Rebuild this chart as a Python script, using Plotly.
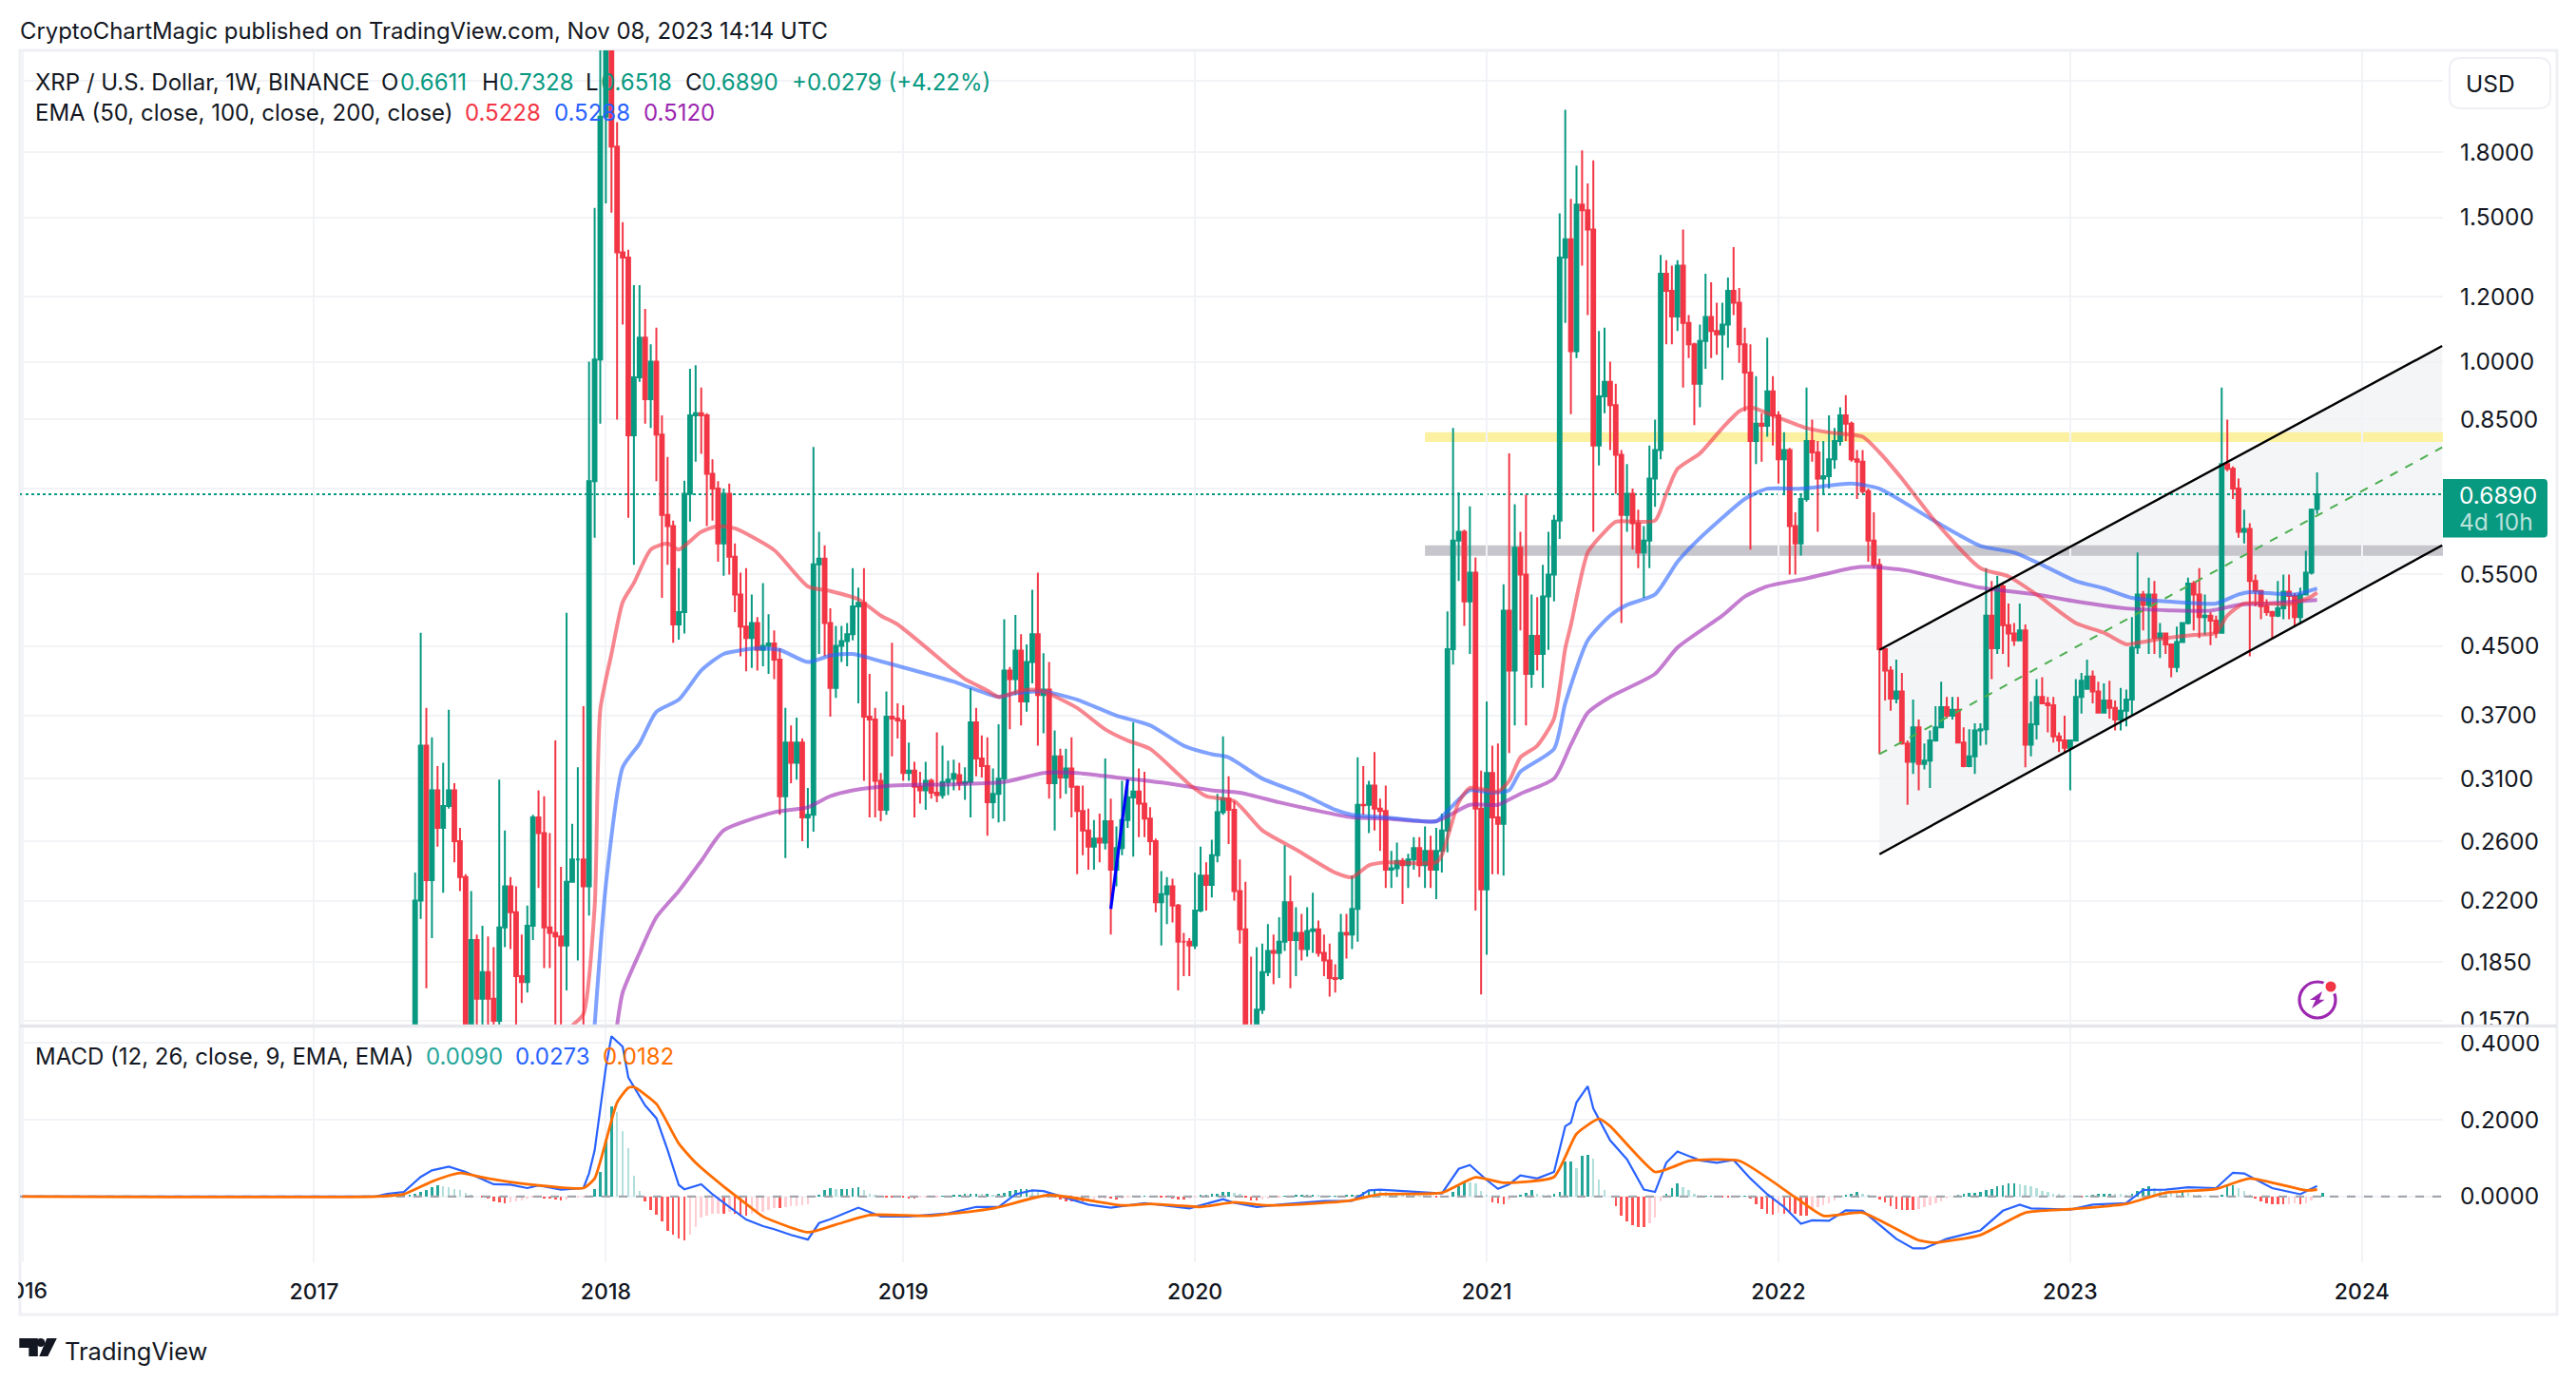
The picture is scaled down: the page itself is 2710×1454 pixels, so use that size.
import math
from datetime import datetime, timedelta
import plotly.graph_objects as go

FIRST_WEEK = 18

open_ = [
 .150,.22,.34,.233,.30,.27,.287,.30,.26,.235,
 .15,.197,.167,.18,.167,.157,.204,.229,.213,.178,
 .175,.205,.278,.266,.204,.201,.199,.194,.232,.247,
 .247,.229,.715,1.006,1.99,3.0,1.83,1.36,1.34,.813,
 .957,1.07,.90,1.0,.815,.65,.63,.478,.495,.69,
 .86,.865,.86,.73,.70,.60,.69,.578,.52,.475,
 .46,.48,.445,.45,.453,.433,.295,.343,.324,.343,
 .278,.28,.566,.575,.48,.40,.45,.456,.465,.503,
 .508,.369,.366,.308,.284,.369,.367,.365,.315,.317,
 .303,.30,.308,.298,.296,.307,.31,.313,.3056,.307,
 .363,.328,.321,.29,.297,.31,.42,.41,.444,.385,
 .43,.465,.392,.398,.306,.33,.311,.319,.303,.283,
 .268,.256,.262,.259,.275,.24,.255,.276,.294,.299,
 .289,.277,.26,.219,.224,.229,.217,.196,.196,.194,
 .214,.236,.23,.25,.282,.293,.284,.226,.203,.15,
 .14,.162,.18,.191,.19,.196,.219,.197,.201,.192,
 .202,.203,.19,.186,.177,.177,.201,.20,.215,.288,
 .288,.304,.285,.283,.24,.241,.246,.243,.247,.255,
 .243,.253,.24,.253,.268,.446,.605,.62,.51,.553,
 .285,.227,.315,.278,.273,.497,.42,.593,.55,.416,
 .463,.44,.517,.55,.64,1.34,1.41,1.03,1.555,1.53,
 1.45,.79,.907,.945,.885,.77,.65,.69,.635,.585,
 .605,.72,.78,1.28,1.22,1.135,1.31,1.115,1.05,.94,
 1.06,1.134,1.09,1.08,1.11,1.22,1.18,1.05,.97,.80,
 .84,.835,.92,.86,.76,.78,.63,.60,.68,.80,
 .775,.72,.725,.76,.80,.86,.84,.76,.755,.695,
 .605,.565,.446,.42,.388,.396,.342,.325,.358,.323,
 .326,.345,.358,.379,.37,.376,.343,.321,.33,.355,
 .356,.49,.447,.532,.477,.466,.457,.47,.341,.361,
 .39,.383,.381,.349,.345,.338,.345,.39,.399,.413,
 .396,.373,.386,.378,.366,.375,.387,.448,.52,.505,
 .52,.46,.466,.452,.424,.455,.48,.536,.52,.488,
 .49,.483,.467,.75,.74,.70,.62,.625,.54,.525,
 .503,.495,.49,.50,.524,.518,.488,.52,.553,.6611]
high = [
 .238,.467,.378,.348,.321,.324,.376,.306,.27,.237,
 .226,.20,.205,.199,.193,.309,.268,.235,.229,.20,
 .217,.28,.30,.295,.266,.345,.242,.494,.273,.32,
 .38,1.0,1.54,3.0,3.3,3.3,1.96,1.48,1.37,1.24,
 1.24,1.16,1.05,1.10,.86,.765,.64,.56,.716,.98,
 .99,.93,.865,.76,.715,.70,.71,.60,.553,.56,
 .52,.488,.537,.492,.47,.447,.378,.36,.368,.347,
 .302,.787,.62,.597,.50,.476,.476,.48,.56,.53,
 .56,.416,.378,.315,.396,.454,.383,.381,.343,.325,
 .316,.325,.31,.353,.34,.326,.327,.324,.32,.40,
 .378,.35,.348,.319,.361,.485,.424,.491,.465,.452,
 .527,.553,.441,.43,.355,.337,.337,.348,.304,.304,
 .285,.276,.281,.328,.293,.271,.308,.31,.363,.319,
 .316,.286,.262,.239,.235,.234,.218,.201,.198,.238,
 .256,.245,.261,.297,.349,.312,.291,.247,.232,.188,
 .193,.195,.206,.20,.21,.257,.236,.216,.212,.216,
 .225,.208,.20,.195,.184,.212,.212,.236,.329,.321,
 .308,.334,.293,.304,.253,.259,.248,.251,.263,.263,
 .271,.264,.27,.281,.496,.83,.693,.624,.666,.577,
 .317,.385,.34,.342,.535,.773,.67,.62,.688,.52,
 .516,.565,.62,.65,1.517,2.03,1.58,1.735,1.81,1.65,
 1.76,1.09,1.10,1.0,.94,.78,.75,.70,.66,.63,
 .79,.85,1.35,1.33,1.31,1.33,1.45,1.14,1.055,1.11,
 1.28,1.25,1.18,1.18,1.267,1.38,1.23,1.10,1.05,.96,
 .865,1.07,.96,.87,.82,.785,.655,.69,.93,.85,
 .80,.80,.86,.83,.88,.91,.845,.78,.78,.70,
 .655,.575,.447,.425,.433,.417,.345,.387,.366,.342,
 .355,.38,.407,.39,.39,.39,.358,.356,.362,.362,
 .56,.54,.548,.535,.507,.48,.507,.478,.385,.41,
 .412,.39,.39,.353,.37,.346,.41,.417,.433,.42,
 .407,.405,.408,.386,.40,.398,.488,.585,.525,.545,
 .54,.48,.467,.453,.475,.481,.545,.54,.56,.52,
 .495,.49,.93,.85,.745,.72,.66,.635,.55,.527,
 .513,.497,.54,.55,.55,.522,.53,.588,.662,.7328]
low = [
 .14,.209,.172,.198,.256,.225,.285,.245,.226,.145,
 .14,.15,.15,.15,.15,.15,.193,.192,.15,.165,
 .17,.197,.228,.182,.182,.15,.15,.171,.232,.186,
 .15,.211,.61,.84,1.56,1.52,.85,1.11,.645,.565,
 .945,.84,.83,.715,.515,.565,.454,.458,.466,.638,
 .755,.772,.63,.64,.57,.548,.55,.495,.437,.419,
 .423,.42,.425,.416,.41,.28,.248,.306,.309,.26,
 .255,.267,.44,.437,.369,.389,.43,.425,.457,.383,
 .308,.278,.278,.275,.28,.33,.347,.308,.308,.278,
 .289,.284,.293,.29,.293,.296,.30,.30,.292,.278,
 .312,.311,.264,.277,.274,.275,.356,.392,.36,.374,
 .405,.34,.352,.293,.268,.293,.297,.278,.237,.25,
 .24,.24,.245,.254,.20,.229,.25,.27,.249,.263,
 .263,.25,.213,.194,.206,.207,.171,.178,.178,.192,
 .213,.214,.222,.245,.28,.258,.22,.195,.14,.13,
 .13,.16,.178,.174,.177,.191,.172,.178,.186,.188,
 .19,.188,.178,.168,.17,.176,.187,.192,.196,.28,
 .266,.268,.253,.228,.228,.235,.218,.228,.24,.235,
 .228,.228,.221,.238,.252,.427,.54,.476,.44,.214,
 .169,.189,.237,.237,.236,.333,.36,.47,.36,.40,
 .42,.40,.445,.51,.608,1.115,.863,1.01,1.31,1.14,
 .62,.747,.865,.78,.69,.48,.62,.59,.56,.515,
 .56,.665,.76,1.05,1.05,1.09,.93,1.01,.837,.88,
 .98,1.01,1.02,.95,1.04,1.14,.997,.87,.59,.75,
 .755,.81,.79,.71,.69,.55,.55,.58,.675,.755,
 .62,.69,.70,.74,.79,.80,.755,.68,.69,.57,
 .56,.332,.386,.375,.383,.341,.288,.314,.30,.318,
 .302,.344,.357,.367,.366,.342,.32,.32,.314,.34,
 .341,.41,.44,.44,.424,.45,.456,.32,.33,.346,
 .383,.353,.343,.334,.334,.30,.344,.372,.398,.383,
 .372,.372,.367,.355,.355,.359,.371,.44,.47,.44,
 .44,.435,.44,.412,.418,.454,.478,.47,.46,.464,
 .451,.46,.466,.735,.68,.61,.60,.437,.503,.485,
 .49,.459,.488,.485,.485,.476,.478,.519,.55,.6518]
close = [
 .22,.34,.233,.30,.27,.287,.30,.26,.235,.15,
 .197,.167,.18,.167,.157,.204,.229,.213,.178,.175,
 .205,.278,.266,.204,.201,.199,.194,.232,.247,.247,
 .229,.715,1.006,1.99,3.0,1.83,1.36,1.34,.813,.957,
 1.07,.90,1.0,.815,.65,.63,.478,.495,.69,.86,
 .865,.86,.73,.70,.60,.69,.578,.52,.475,.46,
 .48,.445,.45,.453,.433,.295,.343,.324,.343,.278,
 .28,.566,.575,.48,.40,.45,.456,.465,.503,.508,
 .369,.366,.308,.284,.369,.367,.365,.315,.317,.303,
 .30,.308,.298,.296,.307,.309,.314,.3056,.307,.363,
 .328,.321,.29,.297,.31,.42,.41,.444,.385,.43,
 .465,.392,.398,.306,.33,.311,.319,.303,.283,.268,
 .256,.262,.259,.275,.24,.255,.276,.294,.299,.289,
 .277,.26,.219,.224,.229,.217,.196,.196,.194,.214,
 .236,.23,.25,.282,.293,.284,.226,.203,.15,.14,
 .162,.18,.191,.19,.196,.219,.197,.201,.192,.202,
 .203,.19,.186,.177,.1765,.201,.20,.215,.288,.2875,
 .304,.285,.283,.24,.241,.246,.243,.247,.255,.243,
 .253,.24,.253,.268,.446,.605,.62,.51,.553,.285,
 .227,.315,.278,.273,.497,.42,.593,.55,.416,.463,
 .44,.517,.55,.64,1.34,1.41,1.03,1.555,1.53,1.45,
 .79,.907,.945,.885,.77,.65,.69,.635,.585,.605,
 .72,.78,1.28,1.22,1.135,1.31,1.115,1.05,.94,1.06,
 1.134,1.09,1.08,1.11,1.22,1.18,1.05,.97,.80,.84,
 .835,.92,.86,.76,.78,.63,.60,.68,.80,.775,
 .72,.725,.76,.80,.86,.84,.76,.755,.695,.605,
 .565,.446,.42,.388,.396,.342,.325,.358,.323,.326,
 .345,.358,.379,.37,.376,.343,.321,.33,.355,.356,
 .49,.447,.532,.477,.466,.457,.47,.341,.361,.39,
 .383,.381,.349,.345,.338,.345,.39,.408,.413,.396,
 .373,.386,.378,.366,.375,.387,.448,.52,.505,.52,
 .46,.466,.452,.424,.455,.48,.536,.52,.488,.49,
 .483,.467,.75,.74,.70,.62,.625,.54,.525,.503,
 .495,.49,.50,.524,.518,.488,.52,.553,.66,.689]

ema50_week = [46,48,50,51,53,55,57,60,63,65,69,72,75,82,88,92,97,101,104,114,116,120,122,126,128,130,136,141,145,149,154,156,159,164,169,175,182,185,188,191,200,201,204,206,211,213,215,218,221,223,224,227,230,232,239,241,243,247,251,254,256,260,266,270,276,279,283,289,297,302,307,314,319,323,325,330,335,339,341,344,352,356,357]
ema50_val  = [.155,.16,.216,.376,.44,.509,.537,.59,.60,.59,.62,.63,.626,.589,.532,.525,.513,.49,.478,.42,.41,.397,.39,.397,.398,.396,.378,.356,.345,.337,.314,.305,.295,.291,.268,.254,.238,.235,.243,.245,.245,.25,.29,.302,.299,.308,.329,.34,.367,.447,.477,.585,.62,.638,.64,.69,.74,.773,.83,.87,.88,.86,.83,.82,.81,.775,.72,.638,.56,.547,.52,.48,.467,.452,.454,.46,.464,.467,.49,.507,.506,.517,.5228]
ema100_week = [50,52,55,58,61,65,69,73,79,83,88,92,96,101,114,117,122,125,130,136,143,149,155,160,163,169,176,182,185,191,200,202,206,210,213,215,221,223,227,231,234,239,243,246,251,255,259,265,274,279,289,297,303,308,314,319,324,334,339,343,345,353,357]
ema100_val  = [.155,.23,.32,.342,.374,.387,.42,.44,.447,.445,.43,.438,.44,.431,.407,.40,.39,.394,.396,.387,.37,.36,.34,.332,.329,.31,.297,.284,.28,.278,.275,.283,.30,.298,.30,.316,.337,.383,.457,.49,.505,.52,.57,.60,.645,.68,.70,.70,.71,.70,.638,.596,.585,.565,.54,.529,.515,.508,.507,.52,.5235,.52,.5288]
ema200_week = [54,55,58,61,65,69,73,82,88,92,96,103,114,123,130,136,143,152,160,165,172,178,185,191,200,206,211,215,221,224,227,231,239,243,251,255,259,266,274,277,284,297,307,314,323,338,343,348,357]
ema200_val  = [.155,.17,.19,.21,.226,.246,.268,.282,.286,.295,.30,.304,.305,.307,.315,.315,.311,.306,.30,.298,.29,.284,.278,.277,.275,.288,.288,.297,.31,.341,.373,.39,.416,.448,.49,.517,.532,.544,.56,.562,.556,.53,.52,.51,.50,.497,.505,.507,.512]

macd_week = [-52,11,13,16,19,21,24,27,32,35,38,40,44,48,49,50,52,53,55,56,59,61,63,65,66,69,71,74,77,80,82,85,88,90,92,97,101,106,113,118,122,125,128,130,138,142,148,156,162,164,168,173,180,185,188,190,201,204,206,209,211,213,215,218,221,223,224,225,227,228,231,234,237,239,241,243,247,250,253,256,259,262,265,267,270,273,276,282,285,287,291,297,301,304,306,313,317,323,326,330,334,339,342,344,349,354,357]
macd_val  = [0,0,.007,.012,.051,.068,.078,.064,.032,.031,.022,.029,.018,.022,.06,.12,.336,.417,.39,.31,.237,.204,.121,.03,.019,.032,.006,-.027,-.06,-.077,-.085,-.10,-.112,-.069,-.059,-.029,-.052,-.052,-.044,-.027,-.027,.006,.016,.014,-.021,-.029,-.017,-.031,-.007,-.0165,-.027,-.02,-.012,-.011,.016,.018,.008,.072,.082,.043,.02,.032,.055,.047,.064,.183,.192,.245,.287,.229,.146,.097,.018,.012,.088,.117,.094,.088,.095,.047,.006,-.027,-.071,-.062,-.063,-.036,-.037,-.11,-.135,-.135,-.11,-.088,-.037,-.021,-.031,-.034,-.021,-.017,.017,.018,.024,.022,.062,.06,.022,.006,.0273]
signal_week = [-52,11,16,21,26,31,38,48,50,54,56,57,61,65,68,73,77,80,88,93,99,110,121,131,144,149,158,164,170,184,190,201,207,212,221,225,229,231,239,242,245,254,264,269,276,286,289,297,305,313,323,330,339,345,355,357]
signal_val  = [0,0,.006,.039,.061,.047,.032,.022,.047,.245,.283,.285,.241,.138,.088,.026,-.019,-.052,-.093,-.073,-.048,-.05,-.031,.004,-.023,-.019,-.027,-.015,-.023,-.012,.006,.01,.05,.036,.051,.163,.202,.183,.064,.076,.093,.093,-.002,-.05,-.042,-.114,-.12,-.10,-.042,-.033,-.019,.01,.02,.047,.016,.0182]

hist_first_week = 13
hist_val = [
 .001,.002,.003,.004,.005,.008,.012,.018,.024,.03,.027,.024,.02,.018,.01,.003,
 0,-.003,-.006,-.012,-.015,-.017,-.014,-.012,-.009,-.006,-.004,-.003,-.005,-.006,-.008,-.01,-.007,-.004,-.003,-.002,0,
 .02,.065,.147,.235,.22,.17,.125,.053,.015,-.012,-.035,-.047,-.065,-.09,-.10,-.108,-.115,-.10,-.08,-.055,-.05,-.046,-.044,
 -.044,-.04,-.045,-.05,-.05,-.045,-.042,-.04,-.035,-.03,-.03,-.028,-.026,-.025,-.022,-.02,0,.004,.018,.022,.02,.02,.02,.021,.025,.018,.006,.003,
 -.002,-.004,-.004,-.003,-.004,-.005,-.005,-.004,-.002,-.002,-.001,.001,.002,.004,.005,.006,.008,.008,.006,.006,.004,.006,.01,.014,.018,.02,.02,.018,.014,.008,.002,
 -.004,-.008,-.012,-.012,-.012,-.012,-.011,-.009,-.006,-.005,-.006,-.007,-.006,-.002,0,.002,.002,0,-.002,-.004,-.004,-.006,-.007,-.007,-.005,-.001,.003,.005,.006,.008,.011,.011,.009,.006,
 -.004,-.009,-.009,-.007,-.005,-.003,-.001,.001,.002,.003,.004,.004,.004,.003,.002,.002,.002,.002,.003,.003,.005,.012,.017,.02,.016,.013,.01,.008,.006,.005,.004,.002,0,-.001,-.002,-.002,
 .002,.012,.028,.04,.038,.035,.015,.005,-.015,-.018,-.02,-.008,-.004,.003,.01,.016,.006,.004,.003,.006,.013,.09,.09,.075,.105,.108,.098,.045,.018,0,
 -.025,-.05,-.065,-.075,-.08,-.08,-.07,-.055,-.013,.008,.022,.034,.024,.018,.006,.002,.002,.002,.001,-.002,-.004,-.003,.001,.002,
 -.006,-.02,-.032,-.046,-.048,-.042,-.045,-.045,-.046,-.05,-.05,-.035,-.028,-.022,-.018,-.01,-.004,.003,.008,.013,.008,.003,-.002,-.008,-.014,-.024,-.032,-.036,-.036,-.036,-.033,-.027,-.022,-.018,-.012,-.006,0,
 .004,.008,.01,.01,.012,.016,.02,.026,.03,.034,.034,.032,.03,.026,.022,.015,.012,.008,.006,.004,.002,-.001,-.002,.002,.004,.006,.007,.008,.007,.006,.005,
 .006,.014,.022,.028,.022,.014,.012,.01,.009,.012,.009,.004,.003,.002,.002,.002,.004,.026,.03,.022,.014,.005,-.006,-.012,-.017,-.02,-.021,-.021,-.019,-.018,-.02,-.017,-.009,-.003,.009]

year_labels = ["", "2017", "2018", "2019", "2020", "2021", "2022", "2023", "2024"]
year_weeks = [-52, 0, 52, 105, 157, 209, 261, 313, 365]
price_ticks = [.157, .185, .22, .26, .31, .37, .45, .55, .7, .85, 1.0, 1.2, 1.5, 1.8, 2.2]
price_labels = ["0.1570", "0.1850", "0.2200", "0.2600", "0.3100", "0.3700", "0.4500", "0.5500", "", "0.8500", "1.0000", "1.2000", "1.5000", "1.8000", ""]
macd_ticks = [0, .2, .4]
macd_labels = ["0.0000", "0.2000", "0.4000"]
macd_grid = [.2, .4]

channel_weeks = [279, 379.4]
channel_upper = [.445, 1.045]
channel_mid = [.332, .786]
channel_lower = [.2506, .597]
drawn_weeks = [142, 145]
drawn_vals = [.215, .309]
yellow_band = [.798, .82]
grey_band = [.5795, .597]
band_start_week = 198
last_close = .689

GREEN, RED = "#089981", "#f23645"
INK = "#131722"
FONT = "Inter"
GRID = "#f2f3f6"
X_START, X_END = "2016-01-01", "2024-04-11"


def wk(k):
    d = datetime(2017, 1, 2) + timedelta(days=7 * k)
    return d.strftime("%Y-%m-%d")


dates = [wk(FIRST_WEEK + i) for i in range(len(close))]

# pixel to paper helpers for decoration only
L, R, T, B = 20.7, 2570.0, 53.0, 1328.0
fx = lambda p: (p - L) / (R - L)
fy = lambda p: (B - p) / (B - T)

fig = go.Figure()

fig.add_trace(go.Candlestick(
    x=dates, open=open_, high=high, low=low, close=close,
    increasing=dict(line=dict(color=GREEN, width=2), fillcolor=GREEN),
    decreasing=dict(line=dict(color=RED, width=2), fillcolor=RED),
    whiskerwidth=0, showlegend=False, xaxis="x", yaxis="y"))

for wks, vals, col in [(ema200_week, ema200_val, "rgba(156,39,176,0.6)"),
                       (ema100_week, ema100_val, "rgba(41,98,255,0.6)"),
                       (ema50_week, ema50_val, "rgba(242,54,69,0.6)")]:
    fig.add_trace(go.Scatter(x=[wk(k) for k in wks], y=vals, mode="lines",
                             line=dict(color=col, width=4, shape="spline", smoothing=0.6),
                             showlegend=False, xaxis="x", yaxis="y"))

for vals, col, w, d in [(channel_upper, "#000000", 2.4, "solid"),
                        (channel_lower, "#000000", 2.4, "solid"),
                        (channel_mid, "#4caf50", 2, "dash")]:
    fig.add_trace(go.Scatter(x=[wk(k) for k in channel_weeks], y=vals, mode="lines",
                             line=dict(color=col, width=w, dash=d),
                             showlegend=False, xaxis="x", yaxis="y"))

fig.add_trace(go.Scatter(x=[wk(k) for k in drawn_weeks], y=drawn_vals, mode="lines",
                         line=dict(color="#0000ff", width=3.2),
                         showlegend=False, xaxis="x", yaxis="y"))

hist_dates = [wk(hist_first_week + i) for i in range(len(hist_val))]
hist_colors = []
prev = 0.0
for v in hist_val:
    if v >= 0:
        hist_colors.append("#26a69a" if v >= prev else "#b2dfdb")
    else:
        hist_colors.append("#ff5252" if v <= prev else "#ffcdd2")
    prev = v
fig.add_trace(go.Bar(x=hist_dates, y=hist_val, marker=dict(color=hist_colors, line=dict(width=0)),
                     width=2.6e8, showlegend=False, xaxis="x", yaxis="y2"))
# dashed MACD zero level as a trace so it sits above the grid
fig.add_trace(go.Scatter(x=[X_START, X_END], y=[0, 0], mode="lines",
                         line=dict(color="#a4a6ae", width=2.4, dash="9px,9px"),
                         showlegend=False, xaxis="x", yaxis="y2"))
fig.add_trace(go.Scatter(x=[wk(k) for k in macd_week], y=macd_val, mode="lines",
                         line=dict(color="#2962ff", width=2.2), showlegend=False, xaxis="x", yaxis="y2"))
fig.add_trace(go.Scatter(x=[wk(k) for k in signal_week], y=signal_val, mode="lines",
                         line=dict(color="#ff6d00", width=2.8, shape="spline", smoothing=0.5),
                         showlegend=False, xaxis="x", yaxis="y2"))

shapes = []
a, b = wk(channel_weeks[0]), wk(channel_weeks[1])
shapes.append(dict(type="path", xref="x", yref="y", layer="below", line=dict(width=0),
                   fillcolor="rgba(120,123,134,0.08)",
                   path=f"M {a},{channel_lower[0]} L {b},{channel_lower[1]} L {b},{channel_upper[1]} L {a},{channel_upper[0]} Z"))
for band, col in [(yellow_band, "#fcf1a1"), (grey_band, "#c6c6cc")]:
    shapes.append(dict(type="rect", xref="x", yref="y", layer="below", line=dict(width=0), fillcolor=col,
                       x0=wk(band_start_week), x1=X_END, y0=band[0], y1=band[1]))
shapes.append(dict(type="line", xref="x", yref="y", layer="below", x0=X_START, x1=X_END, y0=last_close, y1=last_close,
                   line=dict(color=GREEN, width=2, dash="dot")))
FR = "#eff0f4"
shapes.append(dict(type="rect", xref="paper", yref="paper", x0=fx(20.7), x1=fx(2690), y0=fy(53), y1=fy(1383),
                   line=dict(color=FR, width=3), layer="below"))
shapes.append(dict(type="line", xref="paper", yref="paper", x0=fx(20.7), x1=fx(2690), y0=fy(1079.5), y1=fy(1079.5),
                   line=dict(color="#e6e7ec", width=3.5), layer="above"))


def round_rect(x0, y0, x1, y1, r):
    return (f"M {fx(x0+r)},{fy(y0)} L {fx(x1-r)},{fy(y0)} Q {fx(x1)},{fy(y0)} {fx(x1)},{fy(y0+r)} "
            f"L {fx(x1)},{fy(y1-r)} Q {fx(x1)},{fy(y1)} {fx(x1-r)},{fy(y1)} L {fx(x0+r)},{fy(y1)} "
            f"Q {fx(x0)},{fy(y1)} {fx(x0)},{fy(y1-r)} L {fx(x0)},{fy(y0+r)} Q {fx(x0)},{fy(y0)} {fx(x0+r)},{fy(y0)} Z")


shapes.append(dict(type="path", xref="paper", yref="paper", path=round_rect(2577, 61, 2683, 114, 12),
                   fillcolor="#ffffff", line=dict(color="#eff0f4", width=2)))
shapes.append(dict(type="path", xref="paper", yref="paper",
                   path=(f"M {fx(2570)},{fy(504)} L {fx(2676)},{fy(504)} Q {fx(2680)},{fy(504)} {fx(2680)},{fy(508)} "
                         f"L {fx(2680)},{fy(561)} Q {fx(2680)},{fy(565.5)} {fx(2676)},{fy(565.5)} L {fx(2570)},{fy(565.5)} Z"),
                   fillcolor=GREEN, line=dict(width=0)))
PUR = "#9c27b0"
shapes.append(dict(type="circle", xref="paper", yref="paper", x0=fx(2419), x1=fx(2457), y0=fy(1071), y1=fy(1033),
                   line=dict(color=PUR, width=3.2)))
shapes.append(dict(type="path", xref="paper", yref="paper", fillcolor=PUR, line=dict(width=0),
                   path=(f"M {fx(2443)},{fy(1043)} L {fx(2430)},{fy(1052)} L {fx(2436)},{fy(1052)} L {fx(2432)},{fy(1061)} "
                         f"L {fx(2445.7)},{fy(1051.7)} L {fx(2440)},{fy(1051.7)} Z")))
shapes.append(dict(type="circle", xref="paper", yref="paper", x0=fx(2445), x1=fx(2459), y0=fy(1045), y1=fy(1031),
                   fillcolor="#f23645", line=dict(color="#ffffff", width=3)))
shapes.append(dict(type="path", xref="paper", yref="paper", fillcolor=INK, line=dict(width=0),
                   path=(f"M {fx(20)},{fy(1408)} L {fx(39.5)},{fy(1408)} L {fx(39.5)},{fy(1427)} L {fx(30)},{fy(1427)} "
                         f"L {fx(30)},{fy(1418)} L {fx(20)},{fy(1418)} Z")))
shapes.append(dict(type="circle", xref="paper", yref="paper", fillcolor=INK, line=dict(width=0),
                   x0=fx(38), x1=fx(47), y0=fy(1417), y1=fy(1408)))
shapes.append(dict(type="path", xref="paper", yref="paper", fillcolor=INK, line=dict(width=0),
                   path=(f"M {fx(49)},{fy(1408)} L {fx(59.5)},{fy(1408)} L {fx(50)},{fy(1427)} L {fx(41)},{fy(1427)} Z")))


def note(x, y, text, color=INK, size=24, weight=None, anchor="left"):
    f = dict(family=FONT, size=size, color=color)
    if weight:
        f["weight"] = weight
    return dict(xref="paper", yref="paper", x=fx(x), y=fy(y), text=text, showarrow=False,
                xanchor=anchor, yanchor="middle", font=f, borderpad=0, borderwidth=0)


def mask(x0, y0, x1, y1):
    return dict(xref="paper", yref="paper", x=fx((x0 + x1) / 2), y=fy((y0 + y1) / 2), text="&nbsp;",
                showarrow=False, xanchor="center", yanchor="middle", width=x1 - x0, height=y1 - y0,
                bgcolor="#ffffff", borderpad=0, borderwidth=0, font=dict(size=6))


VAL = "#089981"
anns = [
    note(21, 32, "CryptoChartMagic published on TradingView.com, Nov 08, 2023 14:14 UTC", size=23.9),
    note(36.5, 86, "XRP / U.S. Dollar, 1W, BINANCE"),
    note(401, 86, "O"), note(421, 86, "0.6611", VAL),
    note(507, 86, "H"), note(525, 86, "0.7328", VAL),
    note(616, 86, "L"), note(631.6, 86, "0.6518", VAL),
    note(721, 86, "C"), note(738, 86, "0.6890", VAL),
    note(833, 86, "+0.0279 (+4.22%)", VAL),
    note(36.5, 119, "EMA (50, close, 100, close, 200, close)"),
    note(489, 119, "0.5228", "#f23645"),
    note(582.5, 119, "0.5288", "#2962ff"),
    note(677, 119, "0.5120", "#9c27b0"),
    note(37, 1111, "MACD (12, 26, close, 9, EMA, EMA)"),
    note(448, 1111, "0.0090", "#26a69a"),
    note(541.5, 1111, "0.0273", "#2962ff"),
    note(634, 1111, "0.0182", "#ff6d00"),
    note(2587, 521, "0.6890", "#ffffff", size=24.5),
    note(2587, 549, "4d 10h", "rgba(255,255,255,0.72)", size=24.5),
    note(2620, 88, "USD", INK, size=24.5, anchor="center"),
    note(68, 1421, "TradingView", INK, size=25.5),
    note(23, 1358, "2016", INK, size=23, weight=500, anchor="center"),
    mask(8, 1340, 19, 1376),
    mask(2575, 1081.5, 2685, 1089),
]

axis_font = dict(family=FONT, size=24.5, color=INK)
fig.update_layout(
    width=2694, height=1438,
    margin=dict(l=L - 8, r=2694 + 8 - R, t=T - 8, b=1438 + 8 - B, pad=0),
    paper_bgcolor="#ffffff", plot_bgcolor="#ffffff",
    font=dict(family=FONT, color=INK),
    bargap=0, barmode="overlay", showlegend=False,
    boxgap=0.35, boxgroupgap=0,
    shapes=shapes, annotations=anns,
    xaxis=dict(domain=[0, 1], anchor="y2", type="date",
               range=[X_START, X_END],
               tickmode="array", tickvals=[wk(k) for k in year_weeks], ticktext=year_labels,
               tickfont=dict(family=FONT, size=23, color=INK, weight=500),
               ticks="", ticklen=0, showgrid=True, gridcolor=GRID, gridwidth=2, zeroline=False,
               showline=False, rangeslider=dict(visible=False), ticklabelstandoff=15),
    yaxis=dict(domain=[(B - 1078) / (B - T), 1], type="log", side="right", anchor="x",
               range=[math.log10(.1553), math.log10(2.398)],
               tickmode="array", tickvals=price_ticks, ticktext=price_labels, tickfont=axis_font,
               ticks="", showgrid=True, gridcolor=GRID, gridwidth=2.4, zeroline=False, showline=False,
               ticklabelstandoff=17),
    yaxis2=dict(domain=[0, (B - 1081) / (B - T)], side="right", anchor="x",
                range=[-.171, .44],
                tickmode="array", tickvals=macd_ticks, ticktext=macd_labels, tickfont=axis_font,
                ticks="", showgrid=True, gridcolor=GRID, gridwidth=2.4, zeroline=False, showline=False,
                ticklabelstandoff=17),
)

fig.write_html("out.html")
